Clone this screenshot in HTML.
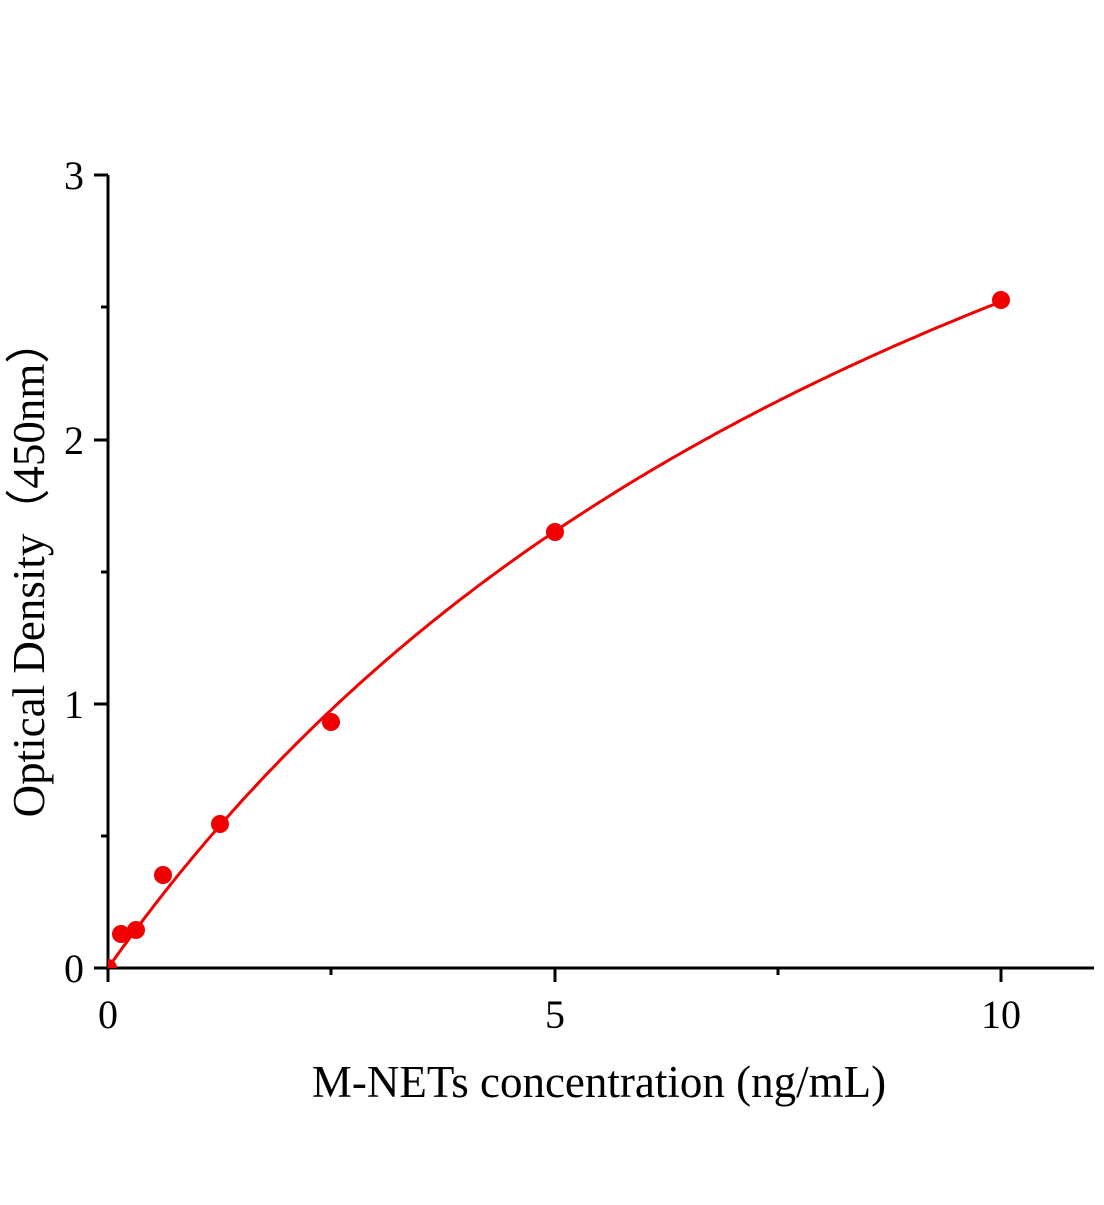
<!DOCTYPE html>
<html><head><meta charset="utf-8"><style>body{margin:0;background:#fff}</style></head><body>
<svg width="1104" height="1200" xmlns="http://www.w3.org/2000/svg" font-family="Liberation Serif, serif">
<rect width="1104" height="1200" fill="#fff"/>
<g stroke="#000" stroke-width="3" fill="none">
<line x1="108" y1="175" x2="108" y2="969"/>
<line x1="106" y1="968" x2="1094" y2="968"/>
<line x1="94" y1="175" x2="108" y2="175"/>
<line x1="94" y1="440" x2="108" y2="440"/>
<line x1="94" y1="704" x2="108" y2="704"/>
<line x1="94" y1="968" x2="108" y2="968"/>
<line x1="101" y1="307" x2="108" y2="307"/>
<line x1="101" y1="572" x2="108" y2="572"/>
<line x1="101" y1="836" x2="108" y2="836"/>
<line x1="108" y1="968" x2="108" y2="982"/>
<line x1="555" y1="968" x2="555" y2="982"/>
<line x1="1001" y1="968" x2="1001" y2="982"/>
<line x1="331" y1="968" x2="331" y2="975"/>
<line x1="778" y1="968" x2="778" y2="975"/>
</g>
<g font-size="40" fill="#000">
<text x="84" y="189" text-anchor="end">3</text>
<text x="84" y="454" text-anchor="end">2</text>
<text x="84" y="718" text-anchor="end">1</text>
<text x="84" y="982" text-anchor="end">0</text>
<text x="108" y="1028" text-anchor="middle">0</text>
<text x="555" y="1028" text-anchor="middle">5</text>
<text x="1001" y="1028" text-anchor="middle">10</text>
<text x="599" y="1097" text-anchor="middle" font-size="45">M-NETs concentration (ng/mL)</text>
<text transform="translate(44,568) rotate(-90)" text-anchor="middle" font-size="45">Optical Density（450nm）</text>
</g>
<path id="c" fill="none" stroke="#f00000" stroke-width="3"/>
<g fill="#f00000">
<clipPath id="cl"><rect x="108" y="0" width="1000" height="968"/></clipPath>
<circle cx="108" cy="968" r="9" clip-path="url(#cl)"/>
<circle cx="121" cy="934" r="9"/>
<circle cx="136" cy="930" r="9"/>
<circle cx="163" cy="875" r="9"/>
<circle cx="220" cy="824" r="9"/>
<circle cx="331" cy="722" r="9"/>
<circle cx="555" cy="532" r="9"/>
<circle cx="1001" cy="300" r="9"/>
</g>
<script>
var d="";for(var i=0;i<=200;i++){var x=i*0.05;var y=5.33*x/(11.14+x);d+=(i?"L":"M")+(108+89.3*x).toFixed(1)+" "+(968-264.3*y).toFixed(1);}
document.getElementById("c").setAttribute("d",d);
</script>
</svg>
</body></html>
